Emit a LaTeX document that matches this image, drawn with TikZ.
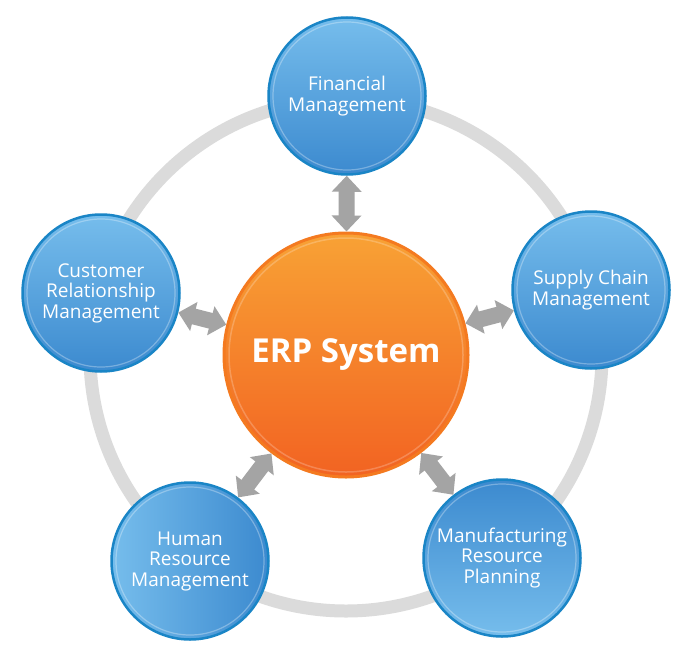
\documentclass[tikz,border=0pt]{standalone}
\usepackage{fontspec}
\setmainfont{Open Sans}
\usetikzlibrary{arrows.meta,shadings}
\definecolor{bluelt}{HTML}{76BDEC}
\definecolor{bluedk}{HTML}{3C8ACF}
\definecolor{blueedge}{HTML}{1A85C6}
\definecolor{orlt}{HTML}{F8A235}
\definecolor{ordk}{HTML}{F26322}
\definecolor{oredge}{HTML}{F47A20}
\definecolor{ringgray}{HTML}{DBDBDB}
\definecolor{arrowgray}{HTML}{A4A4A4}
\begin{document}
\begin{tikzpicture}[x=1pt,y=-1pt,
  sat/.style={circle, minimum size=157pt, inner sep=0pt, draw=blueedge,
    line width=2.5pt, align=center, text=white,
    font=\fontsize{19}{20.5}\selectfont,
    path picture={\draw[white,opacity=.3,line width=1.2pt]
      (path picture bounding box.center) circle (74pt);}},
  satv/.style={sat, top color=bluelt, bottom color=bluedk},
  hub/.style={circle, minimum size=244pt, inner sep=0pt, draw=oredge,
    line width=3pt, top color=orlt, bottom color=ordk, text=white,
    font=\fontsize{33}{36}\selectfont\bfseries,
    path picture={\draw[white,opacity=.22,line width=1.5pt]
      (path picture bounding box.center) circle (117pt);}},
  link/.style={draw=arrowgray, line width=16pt,
    {Triangle[width=29pt,length=16pt]}-{Triangle[width=29pt,length=16pt]}}
]
\useasboundingbox[fill=white] (0,0) rectangle (700,666);
\coordinate (ctr) at (346,355);
\draw[ringgray, line width=13pt] (ctr) circle (256pt);

\node[hub] (erp) at (ctr) {ERP System};
\node[satv] (fin) at (347,96) {Financial\\Management};
\node[satv] (crm) at (101,293) {Customer\\Relationship\\Management};
\node[satv] (scm) at (591,290) {Supply Chain\\Management};
\node[sat, top color=bluelt, bottom color=bluedk, shading angle=90] (hrm) at (190,561) {Human\\Resource\\Management};
\node[sat, top color=bluedk, bottom color=bluelt] (mrp) at (502,558) {Manufacturing\\Resource\\Planning};

\draw[link] (fin) -- (erp);
\draw[link] (crm) -- (erp);
\draw[link] (scm) -- (erp);
\draw[link] (hrm) -- (erp);
\draw[link] (mrp) -- (erp);
\end{tikzpicture}
\end{document}
